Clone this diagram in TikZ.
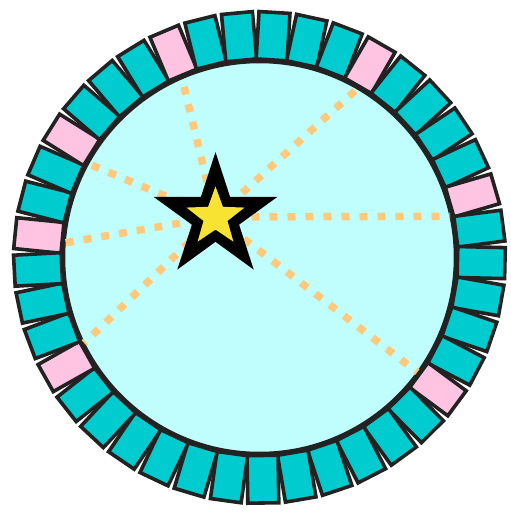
\documentclass[tikz,border=0pt]{standalone}
\definecolor{tealt}{HTML}{00CCCF}
\definecolor{pinkt}{HTML}{FFC4E2}
\definecolor{cyanf}{HTML}{C0FEFE}
\definecolor{edge}{HTML}{222222}
\definecolor{dotc}{HTML}{FFC97B}
\definecolor{stary}{HTML}{F8E232}
\begin{document}
\begin{tikzpicture}[x=1pt,y=1pt,
  tile/.style={draw=edge,line width=3.6pt,line join=miter},
  ring/.style={draw=edge,fill=cyanf,line width=3.5pt},
  dotline/.style={draw=dotc,line width=7.5pt,dash pattern=on 8pt off 10pt}]
\useasboundingbox (-259.5,-254.5) rectangle (251.5,257.5);
\coordinate (c) at (0,0);
\draw[ring] (c) circle[radius=196];
\coordinate (sc) at (-44,40.5);
\foreach \n/\a in {e1/12.2,e2/59.9,e3/113.4,e4/151.3,e5/175.7,e6/-154,e7/-36}
  \coordinate (\n) at (\a:195);
\foreach \n in {e1,e2,e3,e4,e5,e6,e7}
  \draw[dotline] (sc) -- (\n);
\foreach \i/\col in {0/pinkt,1/tealt,2/tealt,3/pinkt,4/tealt,5/tealt,6/tealt,7/pinkt,8/tealt,9/tealt,
  10/tealt,11/tealt,12/tealt,13/pinkt,14/tealt,15/tealt,16/tealt,17/tealt,18/pinkt,19/tealt,
  20/tealt,21/tealt,22/tealt,23/tealt,24/pinkt,25/tealt,26/tealt,27/tealt,28/tealt,29/tealt,
  30/tealt,31/tealt,32/tealt,33/tealt,34/tealt,35/tealt,36/tealt,37/pinkt,38/tealt,39/tealt,40/tealt}
{
  \pgfmathsetmacro\a{174.3-\i*360/41}
  \draw[tile,fill=\col,rotate=\a] (198,-15.5) rectangle (245.5,15.5);
}
\fill[black,shift={(sc)}] (90:65) -- (126:24.8) -- (162:65) -- (198:24.8) -- (234:65) -- (270:24.8) -- (306:65) -- (342:24.8) -- (18:65) -- (54:24.8) -- cycle;
\fill[stary,shift={(sc)}] (90:30.5) -- (126:12.6) -- (162:30.5) -- (198:12.6) -- (234:30.5) -- (270:12.6) -- (306:30.5) -- (342:12.6) -- (18:30.5) -- (54:12.6) -- cycle;
\end{tikzpicture}
\end{document}
